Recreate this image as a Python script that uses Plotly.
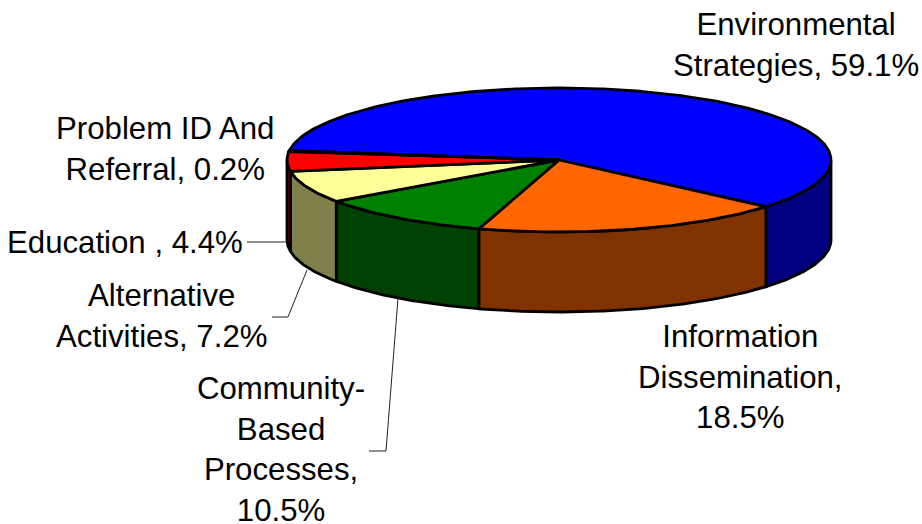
import numpy as np
import plotly.graph_objects as go

labels = ["Environmental Strategies", "Information Dissemination", "Community-Based Processes",
          "Alternative Activities", "Education", "Problem ID And Referral"]
shares = [59.1, 18.5, 10.5, 7.2, 4.4, 0.2]
top_colors = ["#0000FF", "#FF6600", "#008000", "#FFFF99", "#FF0000", "#000080"]
side_colors = ["#000080", "#803300", "#004000", "#80804D", "#800000", "#000040"]

CX, CY, RX, RY, DEPTH = 559, 160, 272, 72, 80
START = 187.5  # degrees, clockwise on screen from 3 o'clock
LW = 2.8

def pt(a, dy=0):
    r = np.radians(a)
    return CX + RX * np.cos(r), CY + RY * np.sin(r) + dy

def arc(a0, a1, dy=0):
    n = max(2, int(abs(a1 - a0) * 1.5) + 2)
    return pt(np.linspace(a0, a1, n), dy)

fig = go.Figure()
total = sum(shares)
scale = 360 / total
spans = []
a = START
for s in shares:
    spans.append((a, a + s * scale))
    a += s * scale

# side walls: visible (front) part of each slice
for (a0, a1), c, name in zip(spans, side_colors, labels):
    for shift in (-360, 0, 360):
        lo, hi = max(a0 + shift, 0), min(a1 + shift, 180)
        if hi > lo:
            xt, yt = arc(lo, hi)
            xb, yb = arc(hi, lo, DEPTH)
            fig.add_trace(go.Scatter(
                x=np.r_[xt, xb, xt[0]], y=np.r_[yt, yb, yt[0]], mode="lines", fill="toself",
                fillcolor=c, line=dict(color="black", width=LW), hoverinfo="skip", name=name))

# top face
for (a0, a1), c, name in zip(spans, top_colors, labels):
    xa, ya = arc(a0, a1)
    fig.add_trace(go.Scatter(
        x=np.r_[CX, xa, CX], y=np.r_[CY, ya, CY], mode="lines", fill="toself",
        fillcolor=c, line=dict(color="black", width=LW), hoverinfo="skip", name=name))

# leader lines
leaders = [
    ([247, 288], [242, 242]),
    ([272, 288, 307], [317, 317, 270]),
    ([369, 386, 398], [451, 451, 298]),
]
for lx, ly in leaders:
    fig.add_trace(go.Scatter(x=lx, y=ly, mode="lines", line=dict(color="#222222", width=1), hoverinfo="skip"))

texts = [
    ("Environmental<br>Strategies, 59.1%", 796, 45),
    ("Information<br>Dissemination,<br>18.5%", 740, 377),
    ("Community-<br>Based<br>Processes,<br>10.5%", 281, 449),
    ("Alternative<br>Activities, 7.2%", 161, 316),
    ("Education , 4.4%", 125, 242),
    ("Problem ID And<br>Referral, 0.2%", 165, 149),
]
for t, x, y in texts:
    fig.add_annotation(x=x, y=y, text=t, showarrow=False, xanchor="center", yanchor="middle",
                       align="center", font=dict(family="Liberation Sans", size=31.2, color="black"))

fig.update_layout(
    width=922, height=524, margin=dict(l=0, r=0, t=0, b=0), showlegend=False,
    paper_bgcolor="white", plot_bgcolor="white",
    xaxis=dict(range=[0, 922], visible=False, fixedrange=True),
    yaxis=dict(range=[524, 0], visible=False, fixedrange=True),
)
fig.write_html("out.html", config=dict(displayModeBar=False),
               post_script="document.body.style.margin='0';window.dispatchEvent(new Event('resize'));")
